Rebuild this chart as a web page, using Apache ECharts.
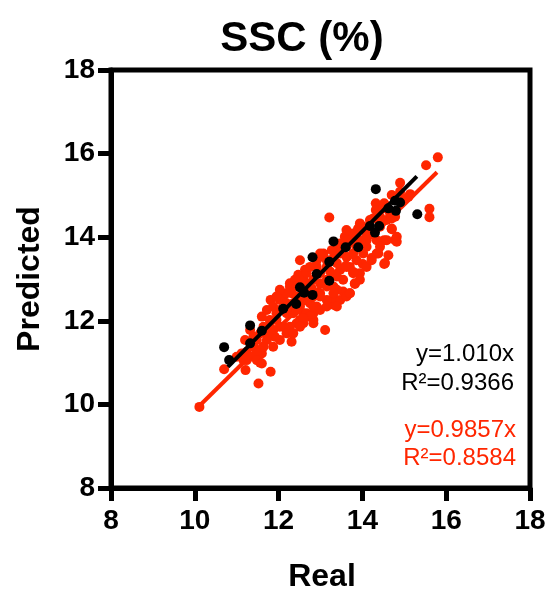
<!DOCTYPE html>
<html><head><meta charset="utf-8">
<script src="https://cdn.jsdelivr.net/npm/echarts@6/dist/echarts.min.js"></script>
<style>html,body{margin:0;padding:0;background:#fff}#c{width:550px;height:591px}</style>
</head><body><div id="c"></div>
<script>
// ---- data ----
const titleText = 'SSC (%)';
const xName = 'Real';
const yName = 'Predicted';
const axisMin = 8, axisMax = 18, axisStep = 2;

const blackReal = [10.70,10.82,11.32,11.32,11.60,12.11,12.42,12.51,12.61,12.81,12.81,12.91,13.21,13.21,13.31,13.60,13.90,14.18,14.30,14.40,14.32,14.62,14.80,14.90,14.78,15.31];
const blackPred = [11.37,11.06,11.89,11.46,11.76,12.29,12.40,12.80,12.67,12.62,13.52,13.12,12.96,13.41,13.90,13.76,13.76,14.27,14.11,14.27,15.15,14.69,14.63,14.83,14.87,14.55];

const redReal = [10.11,10.70,11.12,11.21,11.52,11.81,11.56,11.32,11.60,11.32,11.60,11.81,13.11,12.83,12.83,12.31,12.03,13.21,15.80,15.52,
14.90,15.60,15.60,15.14,14.70,14.32,14.32,14.52,14.90,14.70,14.82,14.82,14.52,14.62,14.52,14.22,14.01,13.82,13.70,13.54,
13.32,13.32,13.58,13.90,14.10,14.34,14.10,13.78,14.26,14.42,14.58,13.31,13.15,12.63,12.47,12.27,12.31,12.11,11.95,11.79,
11.72,11.91,12.11,12.43,12.59,12.63,12.99,13.15,13.31,13.54,13.47,13.70,13.86,14.02,13.78,13.62,13.39,13.23,12.99,12.83,
12.67,12.99,12.91,13.15,13.39,13.62,13.86,13.98,14.10,14.26,14.42,14.66,14.58,14.78,14.98,15.10,14.42,14.02,13.78,13.66,
13.47,13.07,13.07,12.51,12.59,12.39,12.27,12.03,11.87,12.03,12.19,12.35,12.51,12.75,12.91,12.67,12.43,12.19,11.95,11.79,
11.56,11.48,11.40,11.24,11.16,12.27,12.19,12.35,12.03,11.87,12.51,12.67,12.83,12.99,13.15,13.47,13.62,13.39,13.15,12.99,
12.79,12.83,12.51,12.35,12.43,12.19,12.03,11.95,11.72,11.64,11.72,11.87,11.48,11.48,11.24,11.00,11.20,11.40,11.64,12.27,
12.43,12.59,12.75,12.67,12.75,12.91,12.99,13.27,13.47,13.62,13.94,14.18,13.62,13.78,13.94,14.10,14.34,14.42,13.94,13.39,
13.15,13.31,12.59,14.50,14.70,13.90,14.70,14.78,14.58,13.82,14.38,14.22,14.54,12.83,12.59,12.51,13.39,13.70,13.82,13.78,
11.40,11.60];
const redPred = [9.94,10.84,11.22,10.82,10.50,10.78,11.00,11.14,11.22,11.78,12.10,12.50,11.78,12.02,12.18,11.50,11.54,14.47,15.91,15.72,
15.30,14.68,14.48,15.03,15.01,14.81,14.65,14.81,15.09,14.19,14.01,13.89,13.93,13.57,13.36,13.50,13.36,12.88,12.66,12.70,
12.38,12.54,14.01,14.19,14.09,13.93,13.77,13.93,14.45,14.49,14.41,13.50,13.45,13.22,13.10,12.90,12.66,12.58,12.18,12.02,
11.70,11.62,11.86,11.94,12.18,12.50,12.66,12.50,12.82,12.98,13.22,13.29,13.45,13.61,13.61,13.53,13.38,13.18,13.14,12.98,
12.90,12.90,13.29,13.29,13.69,13.77,13.77,13.93,13.93,14.09,14.25,14.57,14.73,14.49,14.89,14.97,14.33,14.25,14.09,13.93,
13.61,13.61,13.53,13.45,12.98,12.98,12.82,12.50,12.34,12.26,12.18,12.18,12.34,12.42,12.34,12.66,12.58,12.42,12.02,11.86,
11.70,11.54,11.38,11.26,11.06,11.86,11.70,11.70,11.86,11.78,12.02,12.18,12.34,12.26,12.34,12.50,12.58,12.74,12.82,12.58,
12.78,12.58,12.50,12.42,12.82,12.66,12.74,12.58,12.26,11.86,11.54,11.38,11.22,11.06,11.06,11.14,11.54,11.62,11.38,12.34,
12.26,11.94,12.10,13.14,13.29,13.45,13.61,13.69,13.85,14.17,14.33,14.41,13.29,13.14,13.14,13.29,13.61,13.77,12.98,13.06,
12.98,12.66,12.82,14.69,14.45,14.21,14.21,13.93,13.93,13.85,13.61,13.45,13.38,11.94,12.06,11.86,12.34,12.66,12.90,13.17,
11.46,10.98];

const blackSlope = 1.010, blackR2 = '0.9366', blackFitRange = [10.79, 15.30];
const redSlope = 0.9857, redR2 = '0.8584', redFitRange = [10.10, 15.78];

// ---- build ----
const BLACK = '#000000', RED = '#ff2600';
const FONT = '"Liberation Sans", Arial, Helvetica, sans-serif';
const zip = (a, b) => a.map((v, i) => [v, b[i]]);
const fit = (s, r) => r.map(x => [x, +(s * x).toFixed(4)]);

const chart = echarts.init(document.getElementById('c'), null, {renderer: 'canvas'});
const axisCommon = {
  type: 'value', min: axisMin, max: axisMax, interval: axisStep,
  axisLine: {show: true, lineStyle: {color: '#000', width: 5}},
  axisTick: {show: true, length: 13, lineStyle: {color: '#000', width: 5}},
  splitLine: {show: false},
  axisLabel: {color: '#000', fontSize: 28, fontWeight: 'bold', fontFamily: FONT}
};
chart.setOption({
  backgroundColor: '#fff',
  animation: false,
  grid: {left: 111, right: 20, top: 70, bottom: 103, show: true, borderColor: '#000', borderWidth: 5, backgroundColor: 'transparent'},
  xAxis: Object.assign({}, axisCommon, {axisLabel: Object.assign({}, axisCommon.axisLabel, {margin: 19})}),
  yAxis: Object.assign({}, axisCommon, {axisLabel: Object.assign({}, axisCommon.axisLabel, {margin: 16})}),
  series: [
    {type: 'scatter', data: zip(redReal, redPred), symbolSize: 10, itemStyle: {color: RED, opacity: 1, borderWidth: 0}, z: 2},
    {type: 'line', data: fit(redSlope, redFitRange), symbol: 'none', lineStyle: {color: RED, width: 4}, z: 3},
    {type: 'line', data: fit(blackSlope, blackFitRange), symbol: 'none', lineStyle: {color: BLACK, width: 4}, z: 4},
    {type: 'scatter', data: zip(blackReal, blackPred), symbolSize: 10, itemStyle: {color: BLACK, opacity: 1, borderWidth: 0}, z: 5}
  ],
  graphic: [
    {type: 'text', x: 302, y: 39, style: {text: titleText, font: 'bold 42px ' + FONT, fill: '#000', textAlign: 'center', textVerticalAlign: 'middle'}},
    {type: 'text', x: 322, y: 577, style: {text: xName, font: 'bold 32px ' + FONT, fill: '#000', textAlign: 'center', textVerticalAlign: 'middle'}},
    {type: 'text', x: 30, y: 279, rotation: Math.PI / 2, style: {text: yName, font: 'bold 32px ' + FONT, fill: '#000', textAlign: 'center', textVerticalAlign: 'middle'}},
    {type: 'text', x: 514, y: 354, style: {text: 'y=' + blackSlope.toFixed(3) + 'x', font: '24px ' + FONT, fill: BLACK, textAlign: 'right', textVerticalAlign: 'middle'}},
    {type: 'text', x: 514, y: 383, style: {text: 'R²=' + blackR2, font: '24px ' + FONT, fill: BLACK, textAlign: 'right', textVerticalAlign: 'middle'}},
    {type: 'text', x: 516, y: 430, style: {text: 'y=' + redSlope + 'x', font: '24px ' + FONT, fill: RED, textAlign: 'right', textVerticalAlign: 'middle'}},
    {type: 'text', x: 516, y: 458, style: {text: 'R²=' + redR2, font: '24px ' + FONT, fill: RED, textAlign: 'right', textVerticalAlign: 'middle'}}
  ]
});
</script></body></html>
